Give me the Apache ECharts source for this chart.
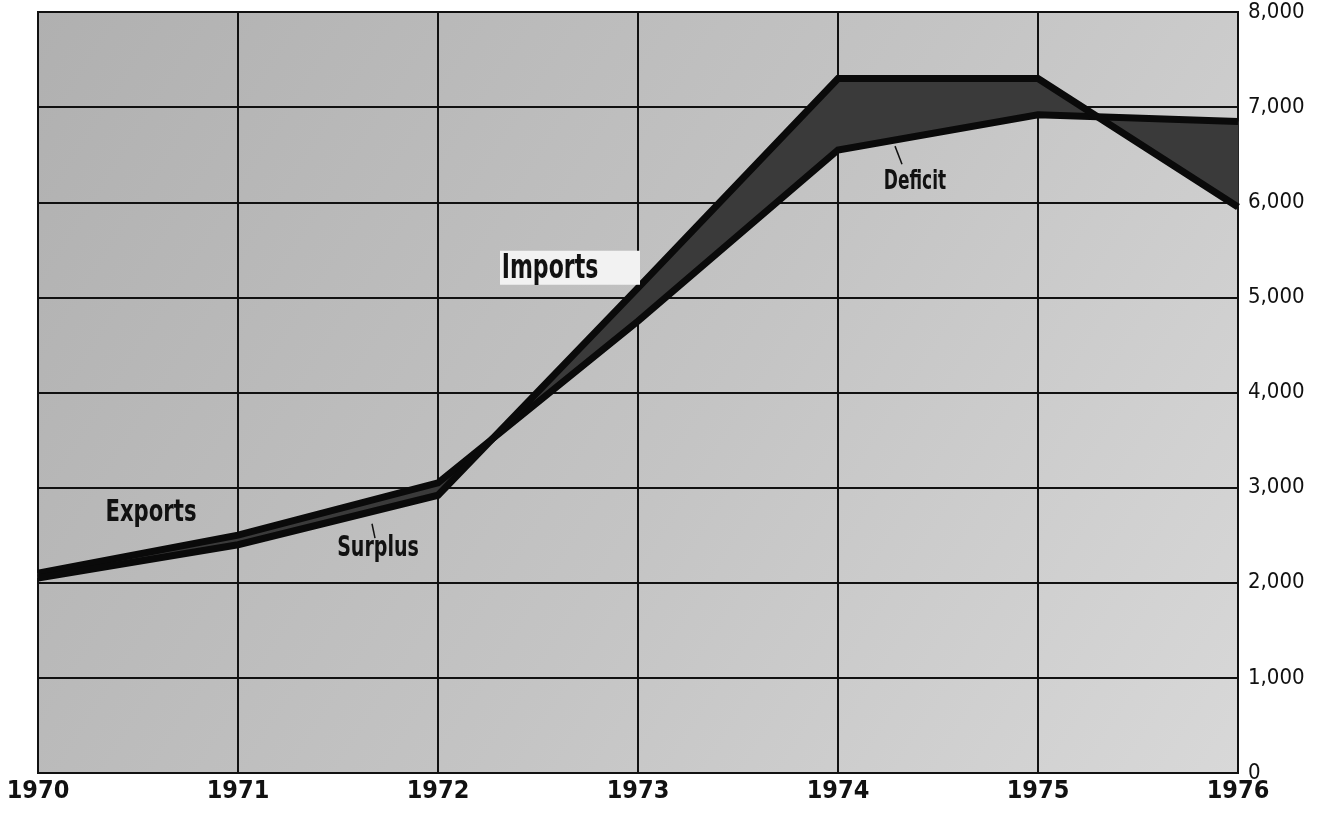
<!DOCTYPE html>
<html>
<head>
<meta charset="utf-8">
<title>Exports and Imports 1970-1976</title>
<script src="https://cdn.jsdelivr.net/npm/echarts@6/dist/echarts.min.js"></script>
<style>
    html, body { margin: 0; padding: 0; background: #fff; }
    #linechart { width: 1317px; height: 831px; }
</style>
</head>
<body>
<div id="linechart"></div>
<script>
// data
var years = [1970, 1971, 1972, 1973, 1974, 1975, 1976];
var exportsVal = [2100, 2500, 3050, 4750, 6550, 6920, 6850];
var importsVal = [2050, 2400, 2920, 5100, 7300, 7300, 5950];
var yTicks = [0, 1000, 2000, 3000, 4000, 5000, 6000, 7000, 8000];

var FONT = "'DejaVu Sans Condensed', 'Liberation Sans Narrow', sans-serif";

$ready(function () {
    initEchart("linechart");
});

function $ready(fn) {
    if (document.readyState !== "loading") fn();
    else document.addEventListener("DOMContentLoaded", fn);
}

/**
 * 初始化图表
 * @param id 容器id
 */
function initEchart(id) {
    var container = echarts.init(document.getElementById(id));
    var pairs = [];
    for (var i = 0; i < years.length; i++) {
        pairs.push([years[i], exportsVal[i], importsVal[i]]);
    }

    var option = {
        animation: false,
        backgroundColor: "#fff",
        grid: {
            left: 38,
            right: 79,
            top: 12,
            bottom: 58,
            show: true,
            borderColor: "#111",
            borderWidth: 2,
            backgroundColor: new echarts.graphic.LinearGradient(0, 0, 1, 1, [
                { offset: 0, color: "#b0b0b0" },
                { offset: 0.55, color: "#c4c4c4" },
                { offset: 1, color: "#d8d8d8" }
            ])
        },
        xAxis: {
            type: "value",
            min: years[0],
            max: years[years.length - 1],
            interval: 1,
            axisLine: { show: false },
            axisTick: { show: false },
            axisLabel: {
                color: "#111",
                fontFamily: FONT,
                fontWeight: "bold",
                fontSize: 25,
                margin: 6,
                formatter: function (v) { return String(v); }
            },
            splitLine: { show: true, lineStyle: { color: "#111", width: 2 } }
        },
        yAxis: {
            type: "value",
            position: "right",
            min: yTicks[0],
            max: yTicks[yTicks.length - 1],
            interval: 1000,
            axisLine: { show: false },
            axisTick: { show: false },
            axisLabel: {
                color: "#111",
                fontFamily: FONT,
                fontSize: 22,
                margin: 10,
                formatter: function (v) { return v.toLocaleString("en-US"); }
            },
            splitLine: { show: true, lineStyle: { color: "#111", width: 2 } }
        },
        series: [
            {
                // band between the two lines (surplus / deficit)
                name: "band",
                type: "custom",
                data: pairs,
                z: 2,
                renderItem: function (params, api) {
                    var k = params.dataIndexInside;
                    if (k >= params.dataInsideLength - 1) return null;
                    var a = api.coord([api.value(0, k), api.value(2, k)]);
                    var b = api.coord([api.value(0, k + 1), api.value(2, k + 1)]);
                    var c = api.coord([api.value(0, k + 1), api.value(1, k + 1)]);
                    var d = api.coord([api.value(0, k), api.value(1, k)]);
                    return {
                        type: "polygon",
                        shape: { points: [a, b, c, d] },
                        style: { fill: "#3a3a3a", stroke: "#3a3a3a", lineWidth: 1 }
                    };
                }
            },
            {
                name: "Exports",
                type: "line",
                data: pairs.map(function (p) { return [p[0], p[1]]; }),
                symbol: "none",
                z: 3,
                lineStyle: { color: "#0a0a0a", width: 7, join: "miter" }
            },
            {
                name: "Imports",
                type: "line",
                data: pairs.map(function (p) { return [p[0], p[2]]; }),
                symbol: "none",
                z: 3,
                lineStyle: { color: "#0a0a0a", width: 7, join: "miter" }
            }
        ]
    };
    container.setOption(option);
    addNotes(container);
}

/**
 * 标注文字 (positions in data space)
 */
function addNotes(chart) {
    var notes = [
        { text: "Exports", at: [1970.565, 2730], size: 31, sx: 0.76 },
        { text: "Surplus", at: [1971.70, 2360], size: 29, sx: 0.73 },
        { text: "Imports", at: [1972.56, 5300], size: 34, sx: 0.72, box: true },
        { text: "Deficit", at: [1974.385, 6210], size: 27, sx: 0.70 }
    ];
    var leaders = [
        [[1971.67, 2620], [1971.685, 2470]],
        [[1974.285, 6590], [1974.32, 6400]]
    ];
    var els = [];
    notes.forEach(function (n) {
        var p = chart.convertToPixel({ gridIndex: 0 }, n.at);
        if (n.box) {
            // light patch behind the Imports label
            els.push({
                type: "rect", z: 9,
                shape: { x: p[0] - 50, y: p[1] - 18, width: 140, height: 34 },
                style: { fill: "#f2f2f2" }
            });
        }
        els.push({
            type: "text", x: p[0], y: p[1], z: 10,
            scaleX: n.sx,
            style: {
                text: n.text,
                fill: "#111",
                font: "bold " + n.size + "px " + FONT,
                align: "center",
                verticalAlign: "middle"
            }
        });
    });
    leaders.forEach(function (l) {
        var p1 = chart.convertToPixel({ gridIndex: 0 }, l[0]);
        var p2 = chart.convertToPixel({ gridIndex: 0 }, l[1]);
        els.push({
            type: "line", z: 10,
            shape: { x1: p1[0], y1: p1[1], x2: p2[0], y2: p2[1] },
            style: { stroke: "#111", lineWidth: 1.5 }
        });
    });
    chart.setOption({ graphic: els });
}
</script>
</body>
</html>
